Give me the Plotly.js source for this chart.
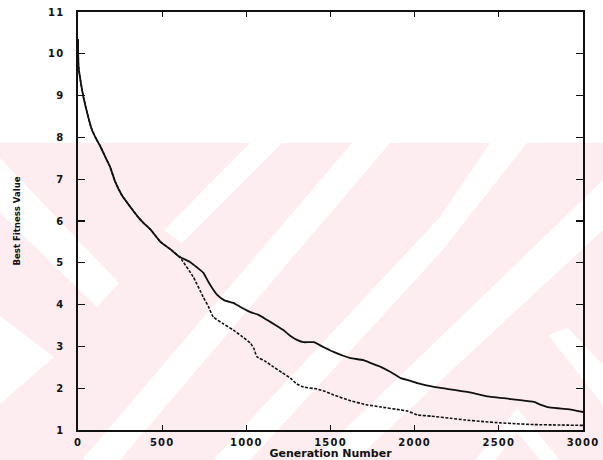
<!DOCTYPE html>
<html>
<head>
<meta charset="utf-8">
<script src="https://cdn.plot.ly/plotly-3.0.1.min.js"></script>
<style>
  html, body { margin: 0; padding: 0; background: #ffffff; }
  #wrap { position: relative; width: 603px; height: 460px; overflow: hidden; }
  #bg { position: absolute; left: 0; top: 0; z-index: 0; }
  #chart { position: absolute; left: 0; top: 0; width: 603px; height: 460px; z-index: 1; }
  .xtick text, .ytick text { letter-spacing: 1.2px; }
</style>
</head>
<body>
<div id="wrap">
  <svg id="bg" width="603" height="460" xmlns="http://www.w3.org/2000/svg">
    <rect x="0" y="143" width="603" height="317" fill="#fdedf0"/>
    <g fill="#ffffff">
      <polygon points="0,158 119,283 97,307 0,213"/>
      <polygon points="0,316 54,357 0,404"/>
      <polygon points="250,143 282,143 182,243 164,230"/>
      <polygon points="352,143 390,143 120,460 82,460"/>
      <polygon points="490,143 527,143 440,253 250,460 213,460 440,217"/>
      <polygon points="603,180 603,230 355,460 313,460"/>
      <polygon points="548,335 568,328 603,365 603,405"/>
      <polygon points="517,408 560,460 540,460 517,432 495,460 475,460"/>
    </g>
  </svg>
  <div id="chart"></div>
</div>
<script>
// Generation numbers and best fitness values
const genSolid = [0, 3, 15, 32, 60, 81, 110, 131, 160, 190, 220, 260, 310, 360, 390, 430, 490, 550, 600, 665, 710, 745, 775, 800, 827, 870, 923, 970, 1024, 1070, 1124, 1170, 1220, 1262, 1304, 1340, 1400, 1460, 1518, 1580, 1619, 1696, 1740, 1798, 1860, 1917, 1970, 2016, 2115, 2200, 2313, 2380, 2452, 2530, 2612, 2709, 2750, 2790, 2850, 2910, 3000];
const fitSolid = [10.35, 9.7, 9.35, 8.97, 8.5, 8.2, 7.95, 7.8, 7.55, 7.3, 6.95, 6.62, 6.34, 6.08, 5.95, 5.8, 5.5, 5.32, 5.15, 5.02, 4.88, 4.76, 4.54, 4.38, 4.23, 4.1, 4.04, 3.93, 3.82, 3.76, 3.63, 3.52, 3.39, 3.25, 3.15, 3.1, 3.1, 2.98, 2.87, 2.77, 2.72, 2.67, 2.6, 2.51, 2.38, 2.24, 2.18, 2.12, 2.03, 1.98, 1.91, 1.85, 1.79, 1.76, 1.72, 1.67, 1.6, 1.55, 1.52, 1.5, 1.43];

const genDashed = [0, 3, 15, 32, 60, 81, 110, 131, 160, 190, 220, 260, 310, 360, 390, 430, 490, 550, 600, 620, 685, 744, 775, 804, 860, 923, 970, 1024, 1045, 1063, 1110, 1161, 1210, 1262, 1300, 1340, 1420, 1470, 1518, 1619, 1718, 1800, 1917, 1960, 2016, 2100, 2214, 2300, 2411, 2512, 2600, 2709, 2850, 3000];
const fitDashed = [10.35, 9.7, 9.35, 8.97, 8.5, 8.2, 7.95, 7.8, 7.55, 7.3, 6.95, 6.62, 6.34, 6.08, 5.95, 5.8, 5.5, 5.32, 5.15, 5.05, 4.66, 4.18, 3.95, 3.7, 3.55, 3.39, 3.25, 3.08, 2.95, 2.75, 2.65, 2.51, 2.38, 2.24, 2.1, 2.03, 1.98, 1.92, 1.84, 1.7, 1.6, 1.55, 1.48, 1.45, 1.36, 1.33, 1.28, 1.24, 1.2, 1.17, 1.15, 1.13, 1.12, 1.11];

const xTickVals = [0, 500, 1000, 1500, 2000, 2500, 3000];
const yTickVals = [1, 2, 3, 4, 5, 6, 7, 8, 9, 10, 11];

const traces = [
  { x: genDashed, y: fitDashed, type: 'scatter', mode: 'lines',
    line: { color: '#111111', width: 1.6, dash: '3px,1.5px', shape: 'spline', smoothing: 0.4 },
    showlegend: false, hoverinfo: 'skip' },
  { x: genSolid, y: fitSolid, type: 'scatter', mode: 'lines',
    line: { color: '#111111', width: 1.8, shape: 'spline', smoothing: 0.4 },
    showlegend: false, hoverinfo: 'skip' }
];

const tickFont = { family: 'DejaVu Sans, Arial, sans-serif', size: 10, color: '#111111', weight: 'bold' };

const layout = {
  width: 603, height: 460,
  margin: { l: 78, r: 20, t: 12, b: 30, pad: 0 },
  paper_bgcolor: 'rgba(0,0,0,0)',
  plot_bgcolor: 'rgba(0,0,0,0)',
  showlegend: false,
  xaxis: {
    range: [0, 3000], tickvals: xTickVals, ticktext: xTickVals.map(String),
    showgrid: false, zeroline: false,
    showline: true, linecolor: '#111111', linewidth: 1.6, mirror: 'ticks',
    ticks: 'inside', ticklen: 5, tickwidth: 1.3, tickcolor: '#111111',
    tickfont: tickFont, ticklabelstandoff: 2, automargin: false,
    title: { text: 'Generation Number', standoff: 1,
      font: { family: 'DejaVu Sans, Arial, sans-serif', size: 11, color: '#111111', weight: 'bold' } }
  },
  yaxis: {
    range: [1, 11], tickvals: yTickVals, ticktext: yTickVals.map(String),
    showgrid: false, zeroline: false,
    showline: true, linecolor: '#111111', linewidth: 1.6, mirror: 'ticks',
    ticks: 'inside', ticklen: 7, tickwidth: 1.3, tickcolor: '#111111',
    tickfont: tickFont, ticklabelstandoff: 10, automargin: false,
    title: { text: 'Best Fitness Value', standoff: 26,
      font: { family: 'Liberation Sans Narrow, DejaVu Sans Condensed, Arial Narrow, sans-serif', size: 9.5, color: '#111111', weight: 'bold' } }
  }
};

Plotly.newPlot('chart', traces, layout, { staticPlot: true, displayModeBar: false });
</script>
</body>
</html>
